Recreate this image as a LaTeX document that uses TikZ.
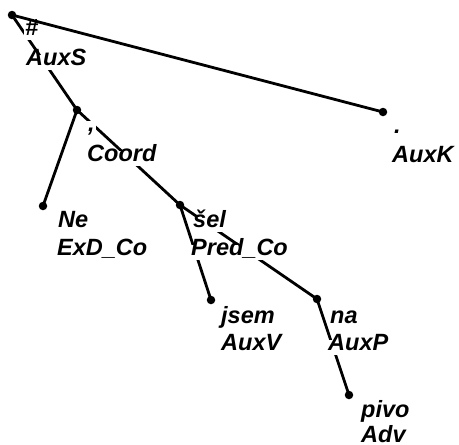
\documentclass[tikz,border=0pt]{standalone}
\usepackage{fontspec}
\setmainfont{Liberation Sans}
\begin{document}
\begin{tikzpicture}[x=1pt,y=-1pt,
  edge/.style={line width=2.8pt},
  dot/.style={circle,fill=black,inner sep=0pt,minimum size=8.5pt},
  lbl/.style={fill=white,inner xsep=1pt,inner ysep=3pt,anchor=base west,
    font=\fontsize{23.5}{28}\selectfont\bfseries\itshape,
    text height=0.72em,text depth=0.22em}]
\fill[white] (0,0) rectangle (459,445);
\useasboundingbox (0,0) rectangle (459,445);
% dots
\node[dot] (r) at (12,15) {};
\node[dot] (c) at (77,110) {};
\node[dot] (k) at (383,112) {};
\node[dot] (n) at (43,206) {};
\node[dot] (s) at (180,205) {};
\node[dot] (j) at (211,300) {};
\node[dot] (a) at (317,299) {};
\node[dot] (p) at (349,395) {};
% edges
\draw[edge] (r.center) -- (c.center);
\draw[edge] (r.center) -- (k.center);
\draw[edge] (c.center) -- (n.center);
\draw[edge] (c.center) -- (s.center);
\draw[edge] (s.center) -- (j.center);
\draw[edge] (s.center) -- (a.center);
\draw[edge] (a.center) -- (p.center);
% labels
\node[lbl] (r1) at (24,35) {\#};
\node[lbl] (r2) at (25,65) {AuxS};
\node[lbl] (c1) at (87,131) {,};
\node[lbl] (c2) at (86,161) {Coord};
\node[lbl] (k1) at (393,133) {.};
\node[lbl] (k2) at (391,162) {AuxK};
\node[lbl] (n1) at (57,227) {Ne};
\node[lbl] (n2) at (56,255) {ExD\_Co};
\node[lbl] (s1) at (192,227) {šel};
\node[lbl] (s2) at (190,255) {Pred\_Co};
\node[lbl] (j1) at (220,323) {jsem};
\node[lbl] (j2) at (220,350) {AuxV};
\node[lbl] (a1) at (329,323) {na};
\node[lbl] (a2) at (327,350) {AuxP};
\node[lbl] (p1) at (360,417) {pivo};
\node[lbl] (p2) at (360,442) {Adv};
\end{tikzpicture}
\end{document}
